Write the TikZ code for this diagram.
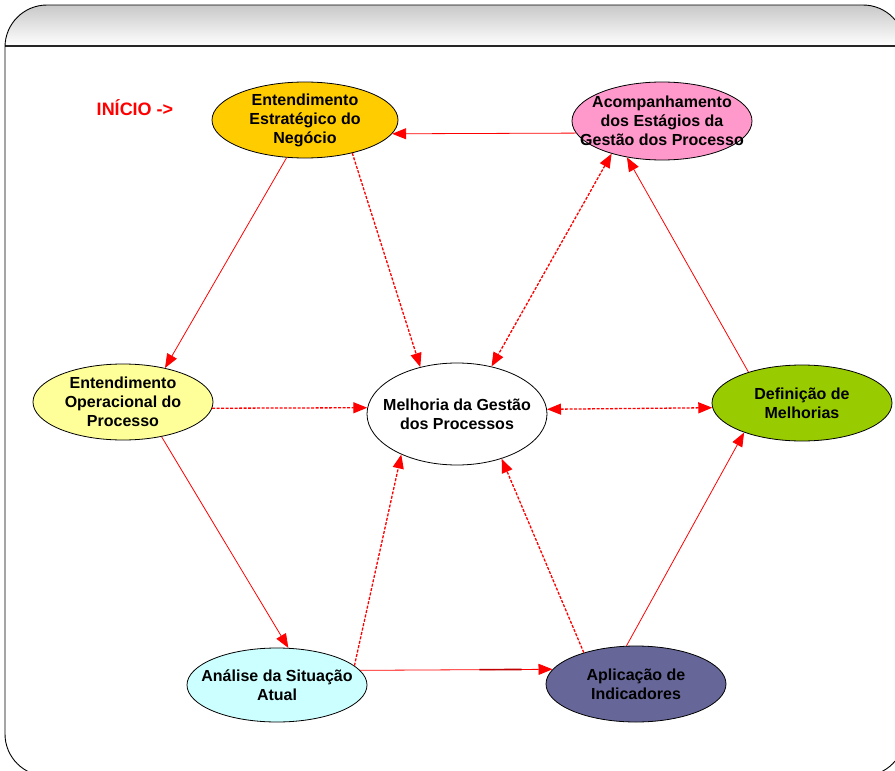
\documentclass[tikz,border=0pt]{standalone}
\usepackage{fontspec}
\setmainfont{Liberation Sans}
\usetikzlibrary{shapes.geometric,arrows.meta,calc}
\definecolor{cEst}{HTML}{FFCC00}
\definecolor{cAco}{HTML}{FF99CC}
\definecolor{cOp}{HTML}{FFFF99}
\definecolor{cDef}{HTML}{99CC00}
\definecolor{cAna}{HTML}{CCFFFF}
\definecolor{cApl}{HTML}{666699}
\definecolor{cRed}{HTML}{FF0000}
\definecolor{cDark}{HTML}{C00000}
\tikzset{
  oval/.style={ellipse, draw=black, line width=0.8pt, inner sep=0pt,
    minimum width=180pt, minimum height=76pt},
  ovaltext/.style={align=center, inner sep=0pt,
    font=\fontsize{16}{19}\selectfont\bfseries},
  flow/.style={draw=cRed, line width=0.8pt, -{Triangle[length=14pt,width=11pt]}},
  dflow/.style={draw=cRed, line width=1.3pt, dash pattern=on 3pt off 1.5pt,
    -{Triangle[length=14pt,width=11pt]}},
  ddflow/.style={dflow, {Triangle[length=14pt,width=11pt]}-{Triangle[length=14pt,width=11pt]}},
}
\begin{document}
\begin{tikzpicture}[x=1pt,y=-1pt]
\useasboundingbox (0,0) rectangle (895,771);
% frame
\begin{scope}
  \clip[rounded corners=42pt] (5,5) rectangle (905,776);
  \shade[top color=black!24, bottom color=white] (0,0) rectangle (910,46);
\end{scope}
\draw[line width=1.4pt, black!85] (5,46) -- (905,46);
\draw[line width=0.9pt, rounded corners=42pt] (5,5) rectangle (905,776);

% nodes
\node[oval, fill=cEst, minimum width=186pt,
  label={[ovaltext]center:Entendimento\\Estratégico do\\Negócio}] (est) at (305,120) {};
\node[oval, fill=cAco, minimum height=78pt,
  label={[ovaltext]center:Acompanhamento\\dos Estágios da\\Gestão dos Processo}] (aco) at (662,121) {};
\node[oval, fill=cOp,
  label={[ovaltext]center:Entendimento\\Operacional do\\Processo}] (op) at (123,402) {};
\node[oval, fill=white, minimum height=102pt,
  label={[ovaltext]center:Melhoria da Gestão\\dos Processos}] (mel) at (457,414) {};
\node[oval, fill=cDef,
  label={[ovaltext]center:Definição de\\Melhorias}] (def) at (802,403) {};
\node[oval, fill=cAna, minimum height=74pt,
  label={[ovaltext]center:Análise da Situação\\Atual}] (ana) at (277,685) {};
\node[oval, fill=cApl,
  label={[ovaltext]center:Aplicação de\\Indicadores}] (apl) at (636,684) {};
\node[text=cRed, font=\fontsize{18}{21}\selectfont\bfseries] (ini) at (135,108) {INÍCIO ->};

% solid cycle
\draw[flow] (aco.188) -- (est.351.5);
\draw[flow] (est.244.6) -- (op.39);
\draw[flow] (op.318) -- (ana.73.4);
\draw[flow] (ana.10.3) -- (apl.170.5);
\draw[cDark, line width=1.6pt] ($(ana.10.3)!0.62!(apl.170.5)$) -- ($(ana.10.3)!0.84!(apl.170.5)$);
\draw[flow] (apl.104.7) -- (def.207);
\draw[flow] (def.150.6) -- (aco.226.7);

% dashed to centre
\draw[dflow] (est.325) -- (mel.128.5);
\draw[ddflow] (aco.213) -- (mel.54.2);
\draw[dflow] (op.356) -- (mel.176.2);
\draw[ddflow] (mel.3.8) -- (def.183.2);
\draw[dflow] (ana.14) -- (mel.216.3);
\draw[dflow] (apl.149.9) -- (mel.315.5);
\end{tikzpicture}
\end{document}
